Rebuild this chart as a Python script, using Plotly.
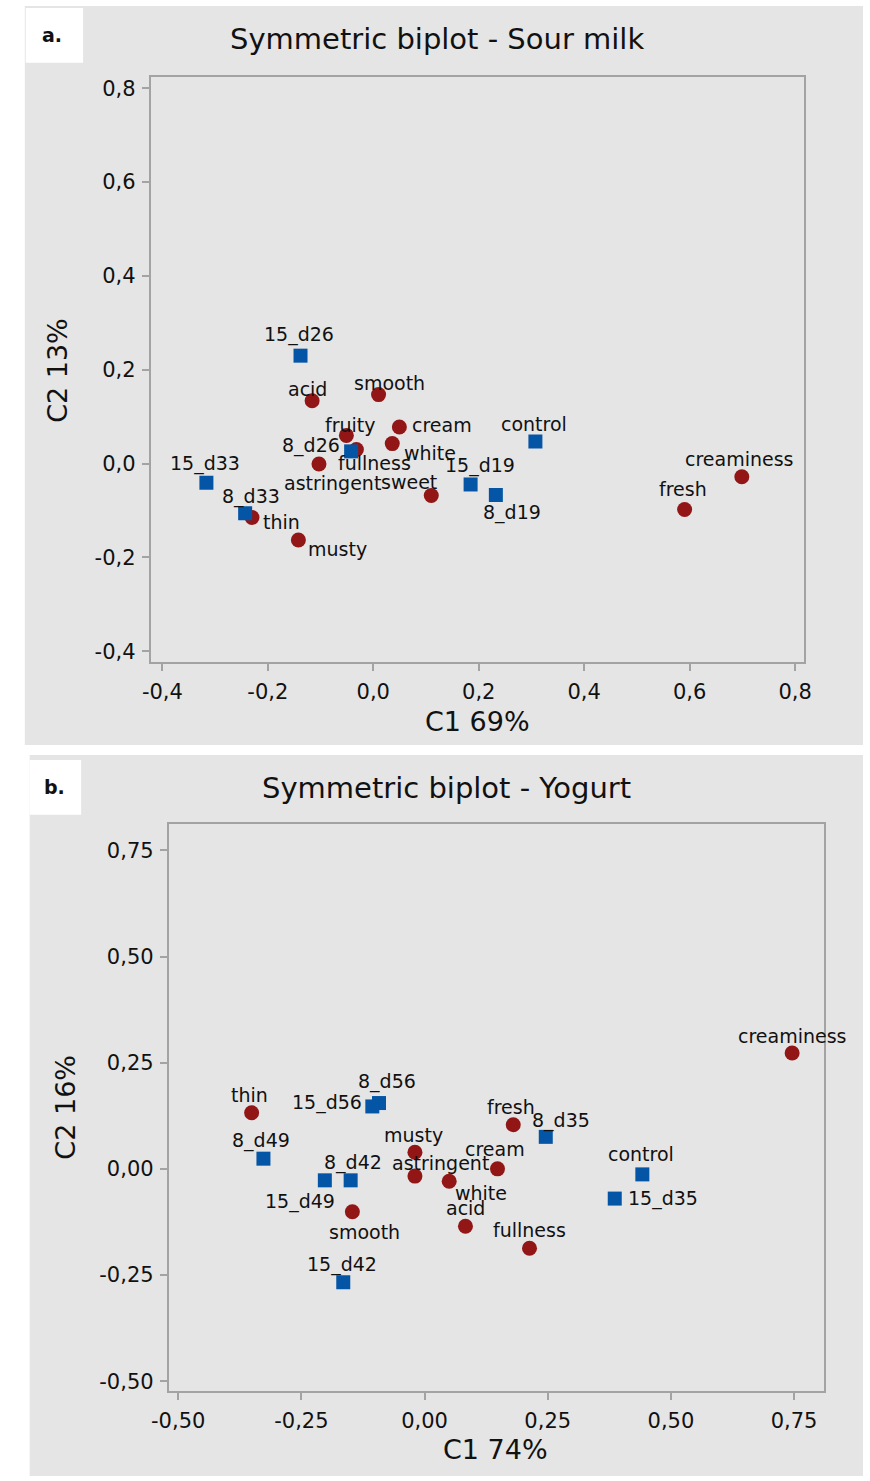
import plotly.graph_objects as go

W, H = 870, 1481

# ---------------- Sour milk (panel a) ----------------
sm_samples = ["control", "15_d19", "8_d19", "15_d26", "8_d26", "15_d33", "8_d33"]
sm_samples_c1 = [0.3075, 0.1846, 0.2325, -0.138, -0.042, -0.3165, -0.243]
sm_samples_c2 = [0.047, -0.0446, -0.067, 0.230, 0.026, -0.041, -0.106]

sm_attr = ["acid", "smooth", "fruity", "cream", "white", "fullness", "astringent",
           "sweet", "thin", "musty", "fresh", "creaminess"]
sm_attr_c1 = [-0.116, 0.010, -0.051, 0.0495, 0.036, -0.032, -0.103,
              0.110, -0.230, -0.142, 0.5905, 0.699]
sm_attr_c2 = [0.134, 0.147, 0.060, 0.078, 0.0425, 0.030, -0.001,
              -0.068, -0.115, -0.163, -0.098, -0.028]

sm_ticks = [-0.4, -0.2, 0.0, 0.2, 0.4, 0.6, 0.8]
sm_ticktext = ["-0,4", "-0,2", "0,0", "0,2", "0,4", "0,6", "0,8"]

# ---------------- Yogurt (panel b) ----------------
yo_samples = ["control", "15_d35", "8_d35", "8_d42", "15_d42", "8_d49", "15_d49", "8_d56", "15_d56"]
yo_samples_c1 = [0.442, 0.386, 0.246, -0.150, -0.165, -0.327, -0.2024, -0.0925, -0.106]
yo_samples_c2 = [-0.013, -0.070, 0.0754, -0.027, -0.267, 0.024, -0.027, 0.155, 0.147]

yo_attr = ["creaminess", "fresh", "cream", "musty", "astringent", "white",
           "acid", "fullness", "smooth", "thin"]
yo_attr_c1 = [0.746, 0.180, 0.148, -0.0195, -0.0195, 0.050, 0.083, 0.213, -0.1465, -0.351]
yo_attr_c2 = [0.273, 0.104, 0.000, 0.039, -0.017, -0.029, -0.135, -0.187, -0.101, 0.132]

yo_ticks = [-0.5, -0.25, 0.0, 0.25, 0.5, 0.75]
yo_ticktext = ["-0,50", "-0,25", "0,00", "0,25", "0,50", "0,75"]

# label placement (pixel offsets from the marker, x right / y up)
sm_label_off = {
    "15_d26": (-2, 21), "acid": (-5, 12), "smooth": (11, 12), "fruity": (4, 10),
    "8_d26": (-40, 6), "15_d33": (-1, 19), "fullness": (18, -14), "astringent": (14, -19),
    "sweet": (-22, 13), "8_d33": (6, 17), "thin": (29, -4), "musty": (39, -9),
    "cream": (43, 2), "white": (38, -9), "control": (-1, 18), "15_d19": (9, 19),
    "8_d19": (16, -18), "creaminess": (-2, 18), "fresh": (-2, 21),
}
yo_label_off = {
    "creaminess": (0, 17), "fresh": (-2, 18), "8_d35": (15, 16), "cream": (-2, 20),
    "control": (-1, 20), "15_d35": (48, 0), "fullness": (0, 18), "acid": (0, 18),
    "white": (32, -12), "astringent": (26, 13), "musty": (-1, 17), "smooth": (12, -20),
    "15_d42": (-1, 18), "thin": (-2, 18), "8_d49": (-2, 18), "15_d56": (-45, 4),
    "8_d56": (8, 22), "8_d42": (2, 18), "15_d49": (-25, -21),
}

RED = "#921616"
BLUE = "#0455a5"
GRAY_BG = "#e5e5e5"
FRAME = "#a3a3a3"
FONT = "DejaVu Sans"
INK = "#111111"


def px(x):
    return x / W


def py(y):
    return 1 - y / H


fig = go.Figure()


def add_panel(xa, ya, attr, ac1, ac2, samp, sc1, sc2, offs):
    fig.add_trace(go.Scatter(
        x=ac1, y=ac2, mode="markers", xaxis=xa, yaxis=ya,
        marker=dict(symbol="circle", size=15, color=RED, line=dict(width=0)),
        showlegend=False, hoverinfo="skip"))
    fig.add_trace(go.Scatter(
        x=sc1, y=sc2, mode="markers", xaxis=xa, yaxis=ya,
        marker=dict(symbol="square", size=14, color=BLUE, line=dict(width=0)),
        showlegend=False, hoverinfo="skip"))
    for names, xs, ys in ((attr, ac1, ac2), (samp, sc1, sc2)):
        for n, xv, yv in zip(names, xs, ys):
            dx, dy = offs[n]
            fig.add_annotation(x=xv, y=yv, xref=xa, yref=ya, text=n, showarrow=False,
                               xshift=dx, yshift=dy,
                               font=dict(family=FONT, size=19, color=INK))
    # dashed reference lines through the origin
    fig.add_shape(type="line", xref=xa, yref=ya + " domain", x0=0, x1=0, y0=0, y1=1,
                  line=dict(color="#9a9a9a", width=2, dash="8px,5px"), layer="below")
    fig.add_shape(type="line", xref=xa + " domain", yref=ya, x0=0, x1=1, y0=0, y1=0,
                  line=dict(color="#9a9a9a", width=2, dash="8px,5px"), layer="below")


add_panel("x", "y", sm_attr, sm_attr_c1, sm_attr_c2,
          sm_samples, sm_samples_c1, sm_samples_c2, sm_label_off)
add_panel("x2", "y2", yo_attr, yo_attr_c1, yo_attr_c2,
          yo_samples, yo_samples_c1, yo_samples_c2, yo_label_off)

axis_common = dict(showgrid=False, zeroline=False, showline=True, mirror=True,
                   linecolor=FRAME, linewidth=2, ticks="outside", ticklen=7,
                   tickwidth=1.5, tickcolor=FRAME,
                   tickfont=dict(family=FONT, size=21, color=INK))

fig.update_layout(
    width=W, height=H, margin=dict(l=0, r=0, t=0, b=0),
    paper_bgcolor="white", plot_bgcolor="white",
    xaxis=dict(domain=[px(136.7), px(809.3)], range=[-0.422, 0.817], anchor="y",
               tickvals=sm_ticks, ticktext=sm_ticktext, ticklabelstandoff=3, **axis_common),
    yaxis=dict(domain=[py(662.3), py(76.7)], range=[-0.422, 0.823], anchor="x",
               tickvals=sm_ticks, ticktext=sm_ticktext, ticklabelstandoff=2, **axis_common),
    xaxis2=dict(domain=[px(155.3), px(829.5)], range=[-0.519, 0.810], anchor="y2",
                tickvals=yo_ticks, ticktext=yo_ticktext, ticklabelstandoff=3, **axis_common),
    yaxis2=dict(domain=[py(1393.3), py(825.7)], range=[-0.522, 0.811], anchor="x2",
                tickvals=yo_ticks, ticktext=yo_ticktext, ticklabelstandoff=2, **axis_common),
)

# panel backgrounds and letter boxes
fig.add_shape(type="rect", xref="paper", yref="paper", x0=px(7), x1=1, y0=py(746), y1=py(5),
              fillcolor=GRAY_BG, line=dict(width=0), layer="below")
fig.add_shape(type="rect", xref="paper", yref="paper", x0=px(12), x1=1, y0=py(1479), y1=py(756),
              fillcolor=GRAY_BG, line=dict(width=0), layer="below")
fig.add_shape(type="rect", xref="paper", yref="paper", x0=px(8), x1=px(67), y0=py(62), y1=py(7),
              fillcolor="white", line=dict(width=0), layer="below")
fig.add_shape(type="rect", xref="paper", yref="paper", x0=px(12), x1=px(65), y0=py(816), y1=py(761),
              fillcolor="white", line=dict(width=0), layer="below")


def text_at(x, y, s, size, bold=False, angle=0):
    fig.add_annotation(x=px(x), y=py(y), xref="paper", yref="paper", text=s,
                       showarrow=False, textangle=angle, xanchor="center", yanchor="middle",
                       font=dict(family=FONT, size=size, color=INK,
                                 weight="bold" if bold else "normal"))


text_at(35, 34, "a.", 19, bold=True)
text_at(38, 788, "b.", 19, bold=True)
text_at(431, 38, "Symmetric biplot - Sour milk", 29)
text_at(441, 789, "Symmetric biplot - Yogurt", 29)
text_at(473, 722, "C1 69%", 27)
text_at(40, 370, "C2 13%", 27, angle=-90)
text_at(492, 1452, "C1 74%", 27)
text_at(48, 1109, "C2 16%", 27, angle=-90)

fig.write_html("out.html")
